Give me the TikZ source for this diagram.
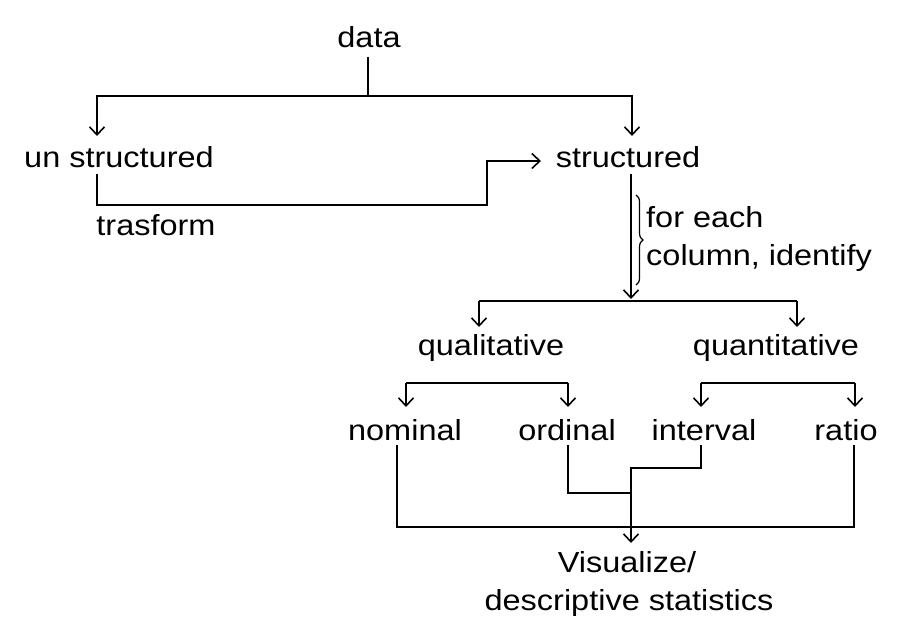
\documentclass[tikz,border=0pt]{standalone}
\usepackage{fontspec}
\setmainfont{Liberation Sans}[FakeStretch=1.12]
\usetikzlibrary{arrows.meta,decorations.pathreplacing}
\tikzset{
  lbl/.style={inner sep=0pt, anchor=base, font=\fontsize{29}{34}\selectfont},
  lblw/.style={inner sep=0pt, anchor=base west, font=\fontsize{29}{34}\selectfont},
  conn/.style={line width=1.6pt, draw=black},
  arr/.style={conn, -{Straight Barb[length=8pt,width=15pt,line width=1.6pt]}},
}
\begin{document}
\begin{tikzpicture}[x=1pt,y=-1pt]
\useasboundingbox (0,0) rectangle (905,642);
\fill[white] (0,0) rectangle (905,642);
% nodes
\node[lbl] (data) at (369,48) {data};
\node[lbl] (un) at (119,167) {un structured};
\node[lbl] (st) at (628,167) {structured};
\node[lbl] (tr) at (156,235) {trasform};
\node[lblw] (fe1) at (646,227) {for each};
\node[lblw] (fe2) at (646,265) {column, identify};
\node[lbl] (ql) at (491,355) {qualitative};
\node[lbl] (qn) at (776,355) {quantitative};
\node[lbl] (nom) at (405,440) {nominal};
\node[lbl] (ord) at (567,440) {ordinal};
\node[lbl] (int) at (704,440) {interval};
\node[lbl] (rat) at (846,440) {ratio};
\node[lbl] (vis1) at (627,572) {Visualize/};
\node[lbl] (vis2) at (629,610) {descriptive statistics};
% coordinates
\coordinate (d0) at (368,57);
\coordinate (j1) at (368,96);
\coordinate (ua) at (97,136);
\coordinate (sa) at (632,136);
\coordinate (u0) at (97,174);
\coordinate (s0) at (631,174);
\coordinate (sIn) at (541,161);
\coordinate (j2) at (631,301);
\coordinate (qla) at (479,327);
\coordinate (qna) at (797,327);
\coordinate (ql0) at (406,383);
\coordinate (ql1) at (568,383);
\coordinate (qn0) at (701,383);
\coordinate (qn1) at (855,383);
\coordinate (nomA) at (406,407);
\coordinate (ordA) at (568,407);
\coordinate (intA) at (701,407);
\coordinate (ratA) at (855,407);
\coordinate (nom0) at (397,445);
\coordinate (ord0) at (568,445);
\coordinate (int0) at (701,445);
\coordinate (rat0) at (854,445);
\coordinate (visA) at (631,543);
% connectors
\draw[conn] (d0) -- (j1);
\draw[arr] (j1) -| (ua);
\draw[arr] (j1) -| (sa);
\draw[arr] (u0) |- (487,205) |- (sIn);
\draw[arr] (s0) -- ([yshift=2pt]j2);
\draw[conn] (479,301) -- (797,301);
\draw[arr] (479,301) -- (qla);
\draw[arr] (797,301) -- (qna);
\draw[decorate, decoration={brace, amplitude=7pt}, line width=1.2pt] (636,195) -- (636,285);
\draw[conn] (ql0) -- (ql1);
\draw[arr] (ql0) -- (nomA);
\draw[arr] (ql1) -- (ordA);
\draw[conn] (qn0) -- (qn1);
\draw[arr] (qn0) -- (intA);
\draw[arr] (qn1) -- (ratA);
\draw[conn] (nom0) |- (854,527) -- (rat0);
\draw[conn] (ord0) |- (631,493);
\draw[arr] (int0) |- (631,468) -- (visA);
\end{tikzpicture}
\end{document}
